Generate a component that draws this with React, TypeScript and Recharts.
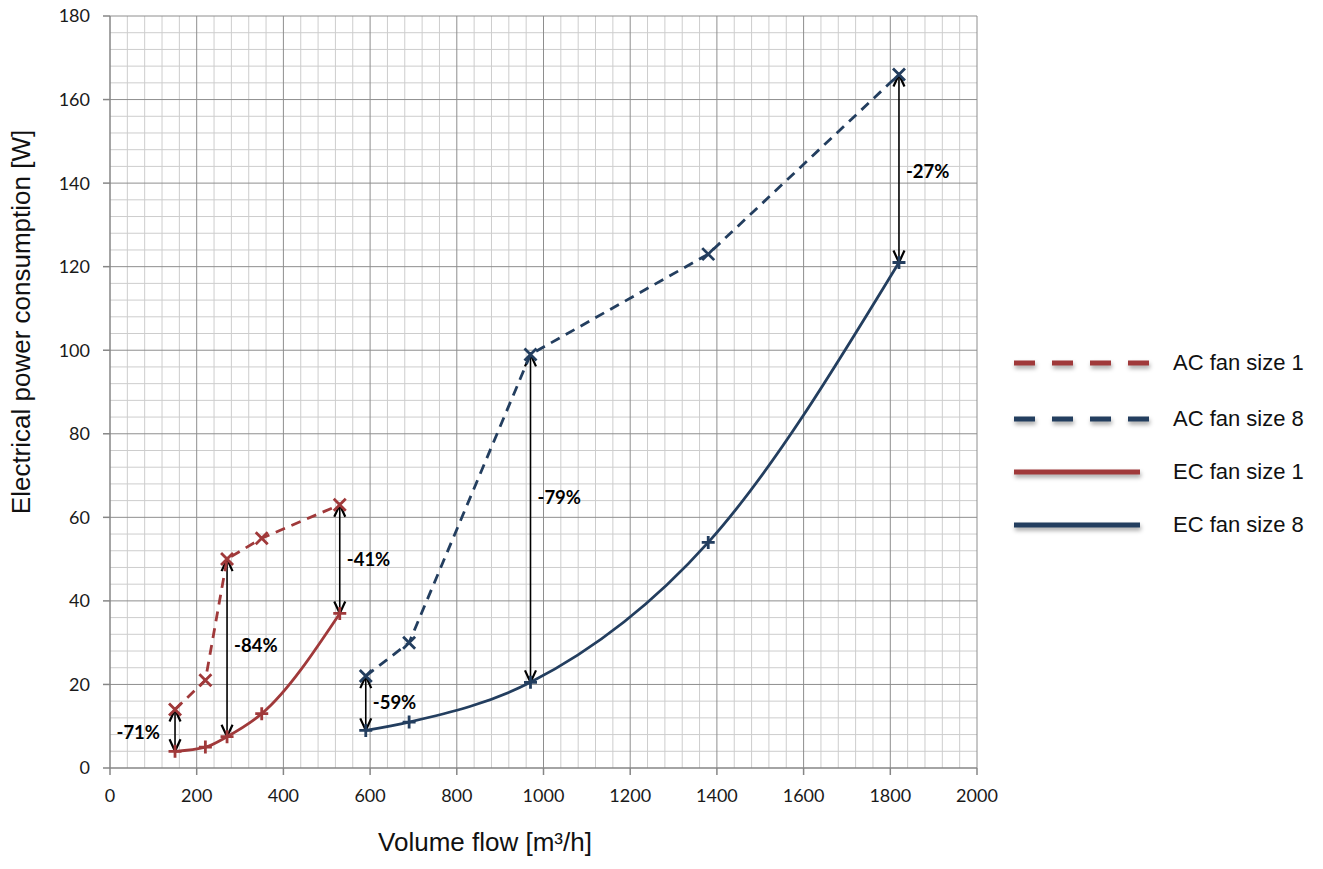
import { LineChart, Line, XAxis, YAxis, ReferenceLine } from "recharts";

const AC1_FLOW = [150, 220, 270, 350, 530];
const AC1_POWER = [14, 21, 50, 55, 63];
const EC1_FLOW = [150, 220, 270, 350, 530];
const EC1_POWER = [4, 5, 7.5, 13, 37];
const AC8_FLOW = [590, 690, 970, 1380, 1820];
const AC8_POWER = [22, 30, 99, 123, 166];
const EC8_FLOW = [590, 690, 970, 1380, 1820];
const EC8_POWER = [9, 11, 20.5, 54, 121];

// savings arrows (AC -> EC)
const ARROW_FLOW = [150, 270, 530, 590, 970, 1820];
const ARROW_TOP = [14, 50, 63, 22, 99, 166];
const ARROW_BOTTOM = [4, 7.5, 37, 9, 20.5, 121];
const ARROW_LABELS = ["-71%", "-84%", "-41%", "-59%", "-79%", "-27%"];
const ARROW_LABEL_AT = [8.7, 29.5, 50, 15.7, 64.8, 143];
const ARROW_SIDE = ["left", "right", "right", "right", "right", "right"];

const X_TICKS = [0, 200, 400, 600, 800, 1000, 1200, 1400, 1600, 1800, 2000];
const Y_TICKS = [0, 20, 40, 60, 80, 100, 120, 140, 160, 180];
// fine grid: 5 subdivisions per major step
const X_MINOR = Array.from({ length: 51 }, (_, i) => i * 40).filter((v) => v % 200 !== 0);
const Y_MINOR = Array.from({ length: 46 }, (_, i) => i * 4).filter((v) => v % 20 !== 0);

const RED = "#A0393A";
const BLUE = "#233E5F";
const MAJOR = "#8E8E8E";
const MINOR = "#CDCDCD";
const AXIS = "#868686";

type Series = {
  name: string;
  flow: number[];
  power: number[];
  color: string;
  dashed: boolean;
};

const SERIES: Series[] = [
  { name: "AC fan size 1", flow: AC1_FLOW, power: AC1_POWER, color: RED, dashed: true },
  { name: "AC fan size 8", flow: AC8_FLOW, power: AC8_POWER, color: BLUE, dashed: true },
  { name: "EC fan size 1", flow: EC1_FLOW, power: EC1_POWER, color: RED, dashed: false },
  { name: "EC fan size 8", flow: EC8_FLOW, power: EC8_POWER, color: BLUE, dashed: false },
];

const toRows = (s: Series) => s.flow.map((x, i) => ({ x, y: s.power[i] }));

// AC points drawn as "x", EC points as "+"
const crossDot = (color: string) => (p: any) => {
  const { cx, cy, index } = p;
  const s = 6;
  return (
    <path
      key={`x-${index}`}
      d={`M${cx - s},${cy - s}L${cx + s},${cy + s}M${cx - s},${cy + s}L${cx + s},${cy - s}`}
      stroke={color}
      strokeWidth={2.8}
      fill="none"
    />
  );
};

const plusDot = (color: string) => (p: any) => {
  const { cx, cy, index } = p;
  const s = 6.5;
  return (
    <path
      key={`p-${index}`}
      d={`M${cx - s},${cy}L${cx + s},${cy}M${cx},${cy - s}L${cx},${cy + s}`}
      stroke={color}
      strokeWidth={2.8}
      fill="none"
    />
  );
};

// double arrow + percentage label
const arrowShape = (i: number) => (p: any) => {
  const x = p.x1;
  const top = Math.min(p.y1, p.y2);
  const bottom = Math.max(p.y1, p.y2);
  const t = (ARROW_LABEL_AT[i] - ARROW_BOTTOM[i]) / (ARROW_TOP[i] - ARROW_BOTTOM[i]);
  const ly = bottom - t * (bottom - top);
  const left = ARROW_SIDE[i] === "left";
  const hw = 5.5;
  const hl = 12;
  return (
    <g>
      <line x1={x} y1={top + 1} x2={x} y2={bottom - 1} stroke="#000" strokeWidth={1.6} />
      <path
        d={`M${x - hw},${top + hl}L${x},${top}L${x + hw},${top + hl}M${x - hw},${bottom - hl}L${x},${bottom}L${x + hw},${bottom - hl}`}
        stroke="#000"
        strokeWidth={2.2}
        fill="none"
      />
      <text
        x={left ? x - 15 : x + 7}
        y={ly}
        textAnchor={left ? "end" : "start"}
        dominantBaseline="central"
        fontFamily="Lato, 'Open Sans', sans-serif"
        fontWeight={700}
        fontSize={18.5}
        fill="#000"
      >
        {ARROW_LABELS[i]}
      </text>
    </g>
  );
};

const tickStyle = { fontFamily: "Lato, 'Open Sans', sans-serif", fontSize: 18, fill: "#1a1a1a" };

export default function App() {
  // negative vertical margins cancel the body margin so the block starts at the top edge
  return (
    <div
      style={{
        position: "relative",
        width: 1307,
        height: 866,
        marginTop: -8,
        marginBottom: -8,
        fontFamily: "'Liberation Sans', Arial, sans-serif",
      }}
    >
      <div style={{ position: "absolute", left: 0, top: 0 }}>
        <LineChart width={1010} height={853} margin={{ top: 16, right: 41, left: 0, bottom: 0 }}>
          <XAxis
            type="number"
            dataKey="x"
            domain={[0, 2000]}
            ticks={X_TICKS}
            allowDuplicatedCategory={false}
            height={85}
            stroke={AXIS}
            strokeWidth={1.5}
            tickSize={7}
            tickMargin={14}
            tick={tickStyle}
            interval={0}
          />
          <YAxis
            type="number"
            domain={[0, 180]}
            ticks={Y_TICKS}
            width={102}
            stroke={AXIS}
            strokeWidth={1.5}
            tickSize={7}
            tickMargin={13}
            tick={tickStyle}
            interval={0}
          />

          {X_MINOR.map((v) => (
            <ReferenceLine key={`xm-${v}`} x={v} stroke={MINOR} strokeWidth={1} />
          ))}
          {Y_MINOR.map((v) => (
            <ReferenceLine key={`ym-${v}`} y={v} stroke={MINOR} strokeWidth={1} />
          ))}
          {X_TICKS.filter((v) => v > 0).map((v) => (
            <ReferenceLine key={`xM-${v}`} x={v} stroke={MAJOR} strokeWidth={1} />
          ))}
          {Y_TICKS.filter((v) => v > 0).map((v) => (
            <ReferenceLine key={`yM-${v}`} y={v} stroke={MAJOR} strokeWidth={1} />
          ))}

          {ARROW_FLOW.map((x, i) => (
            <ReferenceLine
              key={`arrow-${x}`}
              segment={[
                { x, y: ARROW_BOTTOM[i] },
                { x, y: ARROW_TOP[i] },
              ]}
              shape={arrowShape(i)}
            />
          ))}

          {SERIES.map((s) => (
            <Line
              key={s.name}
              data={toRows(s)}
              dataKey="y"
              name={s.name}
              type={s.dashed ? "linear" : "monotone"}
              stroke={s.color}
              strokeWidth={2.8}
              strokeDasharray={s.dashed ? "10 7" : undefined}
              dot={s.dashed ? crossDot(s.color) : plusDot(s.color)}
              activeDot={false}
              isAnimationActive={false}
            />
          ))}
        </LineChart>
      </div>

      {/* axis titles */}
      <div
        style={{
          position: "absolute",
          left: 13,
          top: 322,
          transform: "translate(-50%, -50%) rotate(-90deg)",
          whiteSpace: "nowrap",
          fontSize: 26,
          lineHeight: "34px",
          color: "#111",
        }}
      >
        Electrical power consumption [W]
      </div>
      <div
        style={{
          position: "absolute",
          left: 477,
          top: 825,
          transform: "translateX(-50%)",
          whiteSpace: "nowrap",
          fontSize: 26,
          lineHeight: "34px",
          color: "#111",
        }}
      >
        Volume flow [m³/h]
      </div>

      {/* legend */}
      {SERIES.map((s, i) => {
        const top = [363, 419, 472, 525][i];
        return (
          <div
            key={s.name}
            style={{ position: "absolute", left: 1004, top: top - 15, height: 30, display: "flex", alignItems: "center" }}
          >
            <svg width={150} height={20} style={{ filter: "drop-shadow(1px 3px 2px rgba(0,0,0,0.35))" }}>
              <line
                x1={2}
                y1={10}
                x2={s.dashed ? 145 : 128}
                y2={10}
                stroke={s.color}
                strokeWidth={5}
                strokeDasharray={s.dashed ? "21 17" : undefined}
              />
            </svg>
            <span style={{ marginLeft: 11, fontSize: 22, color: "#111", whiteSpace: "nowrap" }}>{s.name}</span>
          </div>
        );
      })}
    </div>
  );
}
